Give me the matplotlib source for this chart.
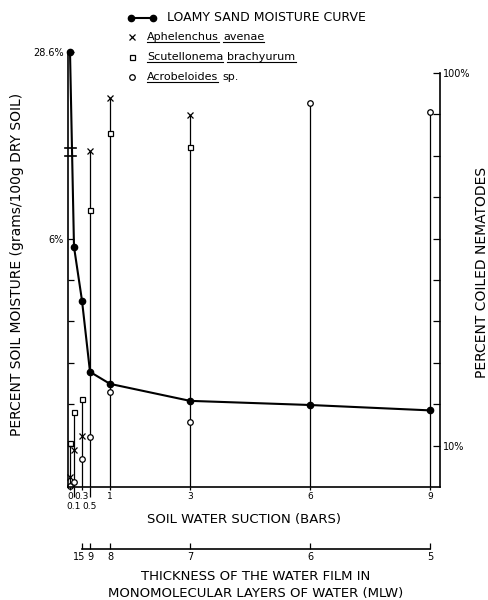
import numpy as np
import matplotlib.pyplot as plt
from matplotlib.lines import Line2D
from matplotlib.transforms import ScaledTranslation

# soil water suction (bars)
suction = [0, 0.1, 0.3, 0.5, 1, 3, 6, 9]
# loamy sand moisture, grams/100g dry soil
moisture = [28.6, 5.8, 4.5, 2.78, 2.49, 2.08, 1.98, 1.85]
# percent coiled nematodes at each suction
aphelenchus = [2.4, 8.9, 12.4, 81.2, 94.0, 89.9, np.nan, np.nan]
scutellonema = [10.6, 18.1, 21.3, 66.9, 85.5, 82.1, np.nan, np.nan]
acrobeloides = [0.3, 1.2, 6.8, 12.1, 22.9, 15.7, 92.8, 90.6]

# thickness of the water film (MLW) below the suction axis
mlw_at = [0.3, 0.5, 1, 3, 6, 9]
mlw_labels = ['15', '9', '8', '7', '6', '5']

suction_major = [0, 0.3, 1, 3, 6, 9]
suction_minor = [0.1, 0.5]
moist_ticks = [1, 2, 3, 4, 5, 6, 28.6]
moist_labels = ['', '', '', '', '', '6%', '28.6%']
coil_ticks = [10, 20, 30, 40, 50, 60, 70, 80, 90, 100]
coil_labels = ['10%', '', '', '', '', '', '', '', '', '100%']

# broken moisture axis: linear up to 7 %, squeezed above
BREAK = 7.0
SQUEEZE = 0.1625


def fwd(y):
    y = np.asarray(y, dtype=float)
    return np.where(y <= BREAK, y, BREAK + (y - BREAK) * SQUEEZE)


def inv(u):
    u = np.asarray(u, dtype=float)
    return np.where(u <= BREAK, u, BREAK + (u - BREAK) / SQUEEZE)


W, H = 488, 600
fig = plt.figure(figsize=(W / 100, H / 100), dpi=100)
fig.patch.set_facecolor('white')

ax = fig.add_axes([68 / W, 113 / H, 372 / W, 439 / H])
ax2 = ax.twinx()
ax.set_zorder(ax2.get_zorder() + 1)
ax.patch.set_visible(False)

ax.set_xlim(-0.05, 9.25)
ax.set_yscale('function', functions=(fwd, inv))
ax.set_ylim(0, float(inv(10.6)))
ax2.set_ylim(0, 106)

# nematode ranges: a stem from zero up to the highest value at each suction
tops = np.nanmax(np.vstack([aphelenchus, scutellonema, acrobeloides]), axis=0)
ax2.vlines(suction, 0, tops, colors='black', lw=0.9)
ax2.plot(suction, aphelenchus, 'x', color='black', ms=4, mew=0.9, clip_on=False)
ax2.plot(suction, scutellonema, 's', mfc='white', mec='black', ms=3.6, mew=0.9, clip_on=False)
ax2.plot(suction, acrobeloides, 'o', mfc='white', mec='black', ms=4, mew=0.9, clip_on=False)

# moisture curve
ax.plot(suction, moisture, '-o', color='black', lw=1.5, ms=4.5, clip_on=False)

# axis break marks
for u in (8.0, 8.18):
    yb = float(inv(u))
    ax.plot([-0.12, 0.14], [yb, yb], color='black', lw=1.2, clip_on=False)

for s in ('top', 'right'):
    ax.spines[s].set_visible(False)
ax.spines['left'].set_bounds(0, 28.6)
ax.spines['left'].set_linewidth(1.2)
ax.spines['bottom'].set_linewidth(1.2)
for s in ('top', 'left', 'bottom'):
    ax2.spines[s].set_visible(False)
ax2.spines['right'].set_bounds(0, 100)
ax2.spines['right'].set_linewidth(1.2)

ax.set_xticks(suction_major)
ax.set_xticklabels([f'{v:g}' for v in suction_major])
ax.set_xticks(suction_minor, minor=True)
ax.set_xticklabels([f'{v:g}' for v in suction_minor], minor=True)
ax.tick_params(axis='x', which='major', direction='out', length=2, width=0.9, labelsize=6.5, pad=1.5)
ax.tick_params(axis='x', which='minor', direction='out', length=7, width=0.9, labelsize=6.5, pad=3.5)

ax.set_yticks(moist_ticks)
ax.set_yticklabels(moist_labels)
ax.yaxis.set_minor_locator(plt.NullLocator())
ax.tick_params(axis='y', direction='in', length=4, width=0.9, labelsize=7, pad=3)

ax2.set_yticks(coil_ticks)
ax2.set_yticklabels(coil_labels)
ax2.tick_params(axis='y', direction='in', length=5, width=0.9, labelsize=7, pad=2)

ax.text(-0.136, 0.508, 'PERCENT SOIL MOISTURE (grams/100g DRY SOIL)', transform=ax.transAxes,
        rotation=90, ha='center', va='center', fontsize=10)
ax.text(1.113, 0.489, 'PERCENT COILED NEMATODES', transform=ax.transAxes,
        rotation=90, ha='center', va='center', fontsize=10)
ax.text(0.473, -0.075, 'SOIL WATER SUCTION (BARS)', transform=ax.transAxes,
        ha='center', va='center', fontsize=9.5)

# second scale: water film thickness
ax3 = fig.add_axes([68 / W, 51 / H, 372 / W, 0.0001])
ax3.set_xlim(ax.get_xlim())
ax3.set_yticks([])
ax3.patch.set_visible(False)
for s in ('top', 'left', 'right'):
    ax3.spines[s].set_visible(False)
ax3.spines['bottom'].set_bounds(mlw_at[0], mlw_at[-1])
ax3.spines['bottom'].set_linewidth(1.2)
ax3.set_xticks(mlw_at)
ax3.set_xticklabels(mlw_labels)
ax3.tick_params(axis='x', direction='in', length=4, width=0.9, labelsize=7, pad=2)
# nudge "15" left so it does not run into "9"
ax3.get_xticklabels()[0].set_horizontalalignment('right')
ax3.get_xticklabels()[0].set_transform(
    ax3.get_xticklabels()[0].get_transform() + ScaledTranslation(3 / 100, 0, fig.dpi_scale_trans))
fig.text(256 / W, 1 - 570 / H, 'THICKNESS OF THE WATER FILM IN\nMONOMOLECULAR LAYERS OF WATER (MLW)',
         ha='center', va='top', fontsize=9.5, linespacing=1.35)

# legend, drawn by hand so the species names can be underlined
r = fig.canvas.get_renderer()
legend_y = [17.5, 37, 57, 77]
legend_rows = [
    ('line', 167, [('LOAMY SAND MOISTURE CURVE', False)]),
    ('x', 147, [('Aphelenchus', True), ('avenae', True)]),
    ('s', 147, [('Scutellonema', True), ('brachyurum', True)]),
    ('o', 147, [('Acrobeloides', True), ('sp.', False)]),
]
for yp, (key, x0, words) in zip(legend_y, legend_rows):
    yf = 1 - yp / H
    if key == 'line':
        fig.add_artist(Line2D([131 / W, 153 / W], [yf, yf], transform=fig.transFigure,
                              color='black', lw=1.5, marker='o', ms=4.5))
    else:
        fig.add_artist(Line2D([132 / W], [yf], transform=fig.transFigure, ls='none',
                              marker=key, color='black', mfc='white', mec='black',
                              ms=4 if key != 's' else 3.6, mew=0.9))
    x = x0
    fs = 9 if key == 'line' else 8
    for word, ul in words:
        t = fig.text(x / W, yf, word, fontsize=fs, va='center', ha='left')
        bb = t.get_window_extent(renderer=r)
        if ul:
            fig.add_artist(Line2D([bb.x0 / W, bb.x1 / W], [(bb.y0 + 0.5) / H] * 2,
                                  transform=fig.transFigure, color='black', lw=0.8))
        x = bb.x1 + 4

fig.savefig('out.png', dpi=100, facecolor='white')
